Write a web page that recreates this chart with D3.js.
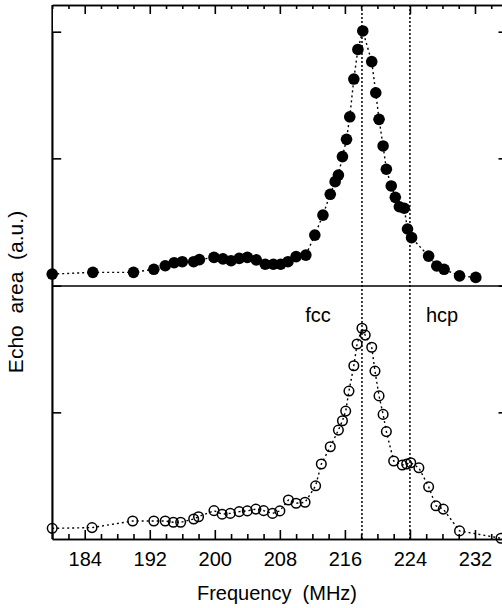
<!DOCTYPE html>
<html>
<head>
<meta charset="utf-8">
<script src="https://cdn.jsdelivr.net/npm/d3@7"></script>
<style>
    body { margin: 0; background: #fff; }
    svg { display: block; }
    text { font-family: "Liberation Sans", Arial, sans-serif; fill: #000; }
</style>
</head>
<body>
<svg width="502" height="608"></svg>
<script>
// top panel: filled circles
const freqTop = [180.0, 185.0, 190.0, 192.5, 193.9, 195.0, 196.0, 197.4, 198.1, 199.9, 201.0, 202.0, 203.0, 204.0, 205.1, 206.2, 207.2, 208.1, 209.0, 210.0, 211.2, 212.3, 213.3, 214.2, 214.8, 215.2, 215.7, 216.2, 216.6, 217.1, 217.6, 218.2, 219.3, 219.8, 220.2, 220.7, 221.1, 221.7, 222.2, 222.7, 223.3, 223.7, 224.2, 226.3, 227.3, 228.2, 230.1, 232.1];
const echoTop = [0.043, 0.050, 0.050, 0.062, 0.076, 0.088, 0.092, 0.092, 0.100, 0.109, 0.103, 0.096, 0.105, 0.109, 0.099, 0.082, 0.082, 0.082, 0.092, 0.112, 0.118, 0.197, 0.276, 0.358, 0.408, 0.434, 0.507, 0.575, 0.664, 0.813, 0.930, 1.003, 0.882, 0.759, 0.654, 0.549, 0.457, 0.391, 0.346, 0.309, 0.303, 0.221, 0.187, 0.114, 0.075, 0.062, 0.036, 0.030];

// bottom panel: open circles
const freqBot = [180.0, 184.9, 189.9, 192.5, 193.9, 194.9, 195.8, 197.4, 198.0, 199.9, 200.9, 201.9, 203.0, 204.0, 205.05, 206.0, 207.1, 208.0, 209.05, 210.0, 211.1, 212.4, 213.1, 214.2, 215.2, 215.7, 216.1, 216.5, 217.1, 217.5, 218.1, 218.5, 219.3, 219.7, 220.2, 220.7, 221.1, 222.0, 223.05, 223.6, 224.1, 225.1, 226.3, 227.2, 228.1, 230.1, 235.2];
const echoBot = [0.042, 0.045, 0.071, 0.071, 0.071, 0.066, 0.066, 0.079, 0.088, 0.112, 0.098, 0.101, 0.108, 0.111, 0.118, 0.112, 0.101, 0.111, 0.154, 0.141, 0.145, 0.210, 0.296, 0.364, 0.430, 0.467, 0.505, 0.584, 0.684, 0.770, 0.832, 0.805, 0.757, 0.663, 0.565, 0.492, 0.424, 0.308, 0.292, 0.296, 0.301, 0.281, 0.206, 0.131, 0.118, 0.032, 0.003];

const majorTicks = [184, 192, 200, 208, 216, 224, 232];
const minorTicks = d3.range(180, 237, 2).filter(v => !majorTicks.includes(v));
const yTicks = [0.5, 1.0];
const phaseFreq = [218.1, 224.0];
const phaseName = ["fcc", "hcp"];

const svg = d3.select("svg");
const x = d3.scaleLinear().domain([180, 236]).range([52.2, 507.5]);
const yTop = d3.scaleLinear().domain([0, 1]).range([285, 31.7]);
const yBot = d3.scaleLinear().domain([0, 1]).range([539, 285.7]);
const frameTop = 5, frameMid = 286, frameBottom = 539;

function styleAxis(g) {
    g.selectAll("path, line").attr("stroke", "#000").attr("stroke-width", 1.6);
    g.selectAll("text").attr("font-size", 20).attr("font-family", "Liberation Sans, Arial, sans-serif");
}

// x axes (bottom, top), ticks inward
svg.append("g")
    .attr("transform", "translate(0," + frameBottom + ")")
    .call(d3.axisBottom(x).tickValues(majorTicks).tickSize(-9).tickSizeOuter(0).tickPadding(13))
    .call(styleAxis);
svg.append("g")
    .attr("transform", "translate(0," + frameBottom + ")")
    .call(d3.axisBottom(x).tickValues(minorTicks).tickSize(-5).tickSizeOuter(0).tickFormat(""))
    .call(styleAxis);
svg.append("g")
    .attr("transform", "translate(0," + frameTop + ")")
    .call(d3.axisTop(x).tickValues(majorTicks).tickSize(-9).tickSizeOuter(0).tickFormat(""))
    .call(styleAxis);
svg.append("g")
    .attr("transform", "translate(0," + frameTop + ")")
    .call(d3.axisTop(x).tickValues(minorTicks).tickSize(-4).tickSizeOuter(0).tickFormat(""))
    .call(styleAxis);

// y axes for each panel, no labels
[yTop, yBot].forEach(y => {
    svg.append("g")
        .attr("transform", "translate(" + x(180) + ",0)")
        .call(d3.axisLeft(y).tickValues(yTicks).tickSize(-9).tickSizeOuter(0).tickFormat(""))
        .call(styleAxis);
    svg.append("g")
        .attr("transform", "translate(" + x(236) + ",0)")
        .call(d3.axisRight(y).tickValues(yTicks).tickSize(-9).tickSizeOuter(0).tickFormat(""))
        .call(styleAxis);
});
svg.append("line")
    .attr("x1", x(180)).attr("x2", x(180))
    .attr("y1", frameTop).attr("y2", frameBottom)
    .attr("stroke", "#000").attr("stroke-width", 1.6);

// panel separator
svg.append("line")
    .attr("x1", x(180)).attr("x2", x(236))
    .attr("y1", frameMid).attr("y2", frameMid)
    .attr("stroke", "#000").attr("stroke-width", 1.6);

// phase marker lines
svg.selectAll(".phase")
    .data(phaseFreq)
    .join("line")
    .attr("class", "phase")
    .attr("x1", d => x(d)).attr("x2", d => x(d))
    .attr("y1", frameTop).attr("y2", frameBottom)
    .attr("stroke", "#000").attr("stroke-width", 1.5)
    .attr("stroke-dasharray", "2,2");
svg.selectAll(".phaseLabel")
    .data(phaseName)
    .join("text")
    .attr("class", "phaseLabel")
    .attr("x", (d, i) => i === 0 ? 318 : 442)
    .attr("y", 321.5)
    .attr("text-anchor", "middle")
    .attr("font-size", 20)
    .text(d => d);

// data lines and markers
const topData = freqTop.map((f, i) => ({f: f, v: echoTop[i]}));
const botData = freqBot.map((f, i) => ({f: f, v: echoBot[i]}));

svg.append("path")
    .datum(topData)
    .attr("d", d3.line().x(d => x(d.f)).y(d => yTop(d.v)))
    .attr("fill", "none").attr("stroke", "#000").attr("stroke-width", 1.4)
    .attr("stroke-dasharray", "2,3");
svg.append("path")
    .datum(botData)
    .attr("d", d3.line().x(d => x(d.f)).y(d => yBot(d.v)))
    .attr("fill", "none").attr("stroke", "#000").attr("stroke-width", 1.4)
    .attr("stroke-dasharray", "2,3");

svg.append("g")
    .selectAll("circle")
    .data(topData)
    .join("circle")
    .attr("cx", d => x(d.f))
    .attr("cy", d => yTop(d.v))
    .attr("r", 5.8)
    .attr("fill", "#000");
svg.append("g")
    .selectAll("circle")
    .data(botData)
    .join("circle")
    .attr("cx", d => x(d.f))
    .attr("cy", d => yBot(d.v))
    .attr("r", 4.8)
    .attr("fill", "none")
    .attr("stroke", "#000")
    .attr("stroke-width", 1.5);

// axis titles
svg.append("text")
    .attr("x", 277).attr("y", 600)
    .attr("text-anchor", "middle")
    .attr("font-size", 20)
    .style("white-space", "pre")
    .text("Frequency  (MHz)");
svg.append("text")
    .attr("transform", "translate(23,292) rotate(-90)")
    .attr("text-anchor", "middle")
    .attr("font-size", 21)
    .style("white-space", "pre")
    .text("Echo  area  (a.u.)");
</script>
</body>
</html>
